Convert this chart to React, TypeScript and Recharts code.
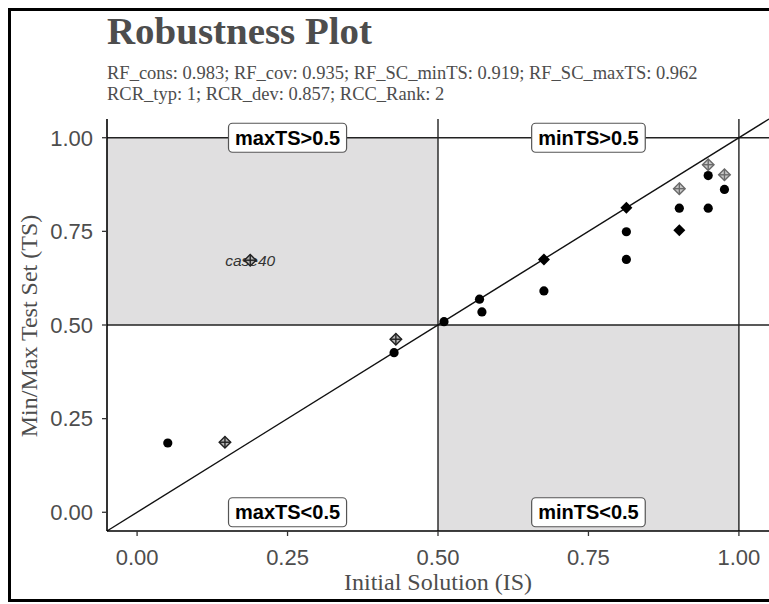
import React from "react";
import { ScatterChart, Scatter, XAxis, YAxis, ReferenceArea, ReferenceLine } from "recharts";

const xTicks = [0, 0.25, 0.5, 0.75, 1];
const yTicks = [0, 0.25, 0.5, 0.75, 1];

// solid dots
const circlePoints = [
  { x: 0.051, y: 0.185 },
  { x: 0.427, y: 0.426 },
  { x: 0.51, y: 0.509 },
  { x: 0.569, y: 0.569 },
  { x: 0.573, y: 0.535 },
  { x: 0.676, y: 0.591 },
  { x: 0.813, y: 0.749 },
  { x: 0.813, y: 0.675 },
  { x: 0.901, y: 0.812 },
  { x: 0.949, y: 0.899 },
  { x: 0.949, y: 0.812 },
  { x: 0.976, y: 0.862 },
];

// solid diamonds
const diamondPoints = [
  { x: 0.676, y: 0.675 },
  { x: 0.813, y: 0.813 },
  { x: 0.901, y: 0.753 },
];

// diamond-plus, dark
const crossedPoints = [
  { x: 0.146, y: 0.187 },
  { x: 0.188, y: 0.673, label: "case40" },
  { x: 0.43, y: 0.462 },
];

// diamond-plus, grey
const crossedGreyPoints = [
  { x: 0.901, y: 0.864 },
  { x: 0.949, y: 0.928 },
  { x: 0.976, y: 0.901 },
];

const quadrantLabels = [
  { x: 0.25, y: 1, text: "maxTS>0.5" },
  { x: 0.75, y: 1, text: "minTS>0.5" },
  { x: 0.25, y: 0, text: "maxTS<0.5" },
  { x: 0.75, y: 0, text: "minTS<0.5" },
];

const title = "Robustness Plot";
const subtitleLines = [
  "RF_cons: 0.983; RF_cov: 0.935; RF_SC_minTS: 0.919; RF_SC_maxTS: 0.962",
  "RCR_typ: 1; RCR_dev: 0.857; RCC_Rank: 2",
];
const xTitle = "Initial Solution (IS)";
const yTitle = "Min/Max Test Set (TS)";

const serif = "'Liberation Serif', serif";
const sans = "'Liberation Sans', Arial, sans-serif";
const textGrey = "#4d4d4d";
const shade = "#e0dfe0";

const fmt = (v: number) => v.toFixed(2);

let ctx: CanvasRenderingContext2D | null = null;
const measure = (t: string) => {
  if (!ctx) ctx = document.createElement("canvas").getContext("2d");
  if (!ctx) return t.length * 11.5;
  ctx.font = `bold 20px ${sans}`;
  return ctx.measureText(t).width;
};

const Dot = ({ cx, cy }: any) => <circle cx={cx} cy={cy} r={4.6} fill="#000" />;

const Diamond = ({ cx, cy }: any) => (
  <polygon points={`${cx},${cy - 6} ${cx + 6},${cy} ${cx},${cy + 6} ${cx - 6},${cy}`} fill="#000" />
);

const crossDiamond = (stroke: string, fill: string) => ({ cx, cy, payload }: any) => (
  <g>
    {payload?.label && (
      <text
        x={cx}
        y={cy}
        dy="0.36em"
        textAnchor="middle"
        fontStyle="italic"
        fontSize={15.5}
        fontFamily={sans}
        fill="#333"
      >
        {payload.label}
      </text>
    )}
    <polygon
      points={`${cx},${cy - 5.8} ${cx + 5.8},${cy} ${cx},${cy + 5.8} ${cx - 5.8},${cy}`}
      fill={fill}
      stroke={stroke}
      strokeWidth={1.4}
    />
    <line x1={cx - 5.8} y1={cy} x2={cx + 5.8} y2={cy} stroke={stroke} strokeWidth={1.4} />
    <line x1={cx} y1={cy - 5.8} x2={cx} y2={cy + 5.8} stroke={stroke} strokeWidth={1.4} />
  </g>
);

const QuadLabel = ({ cx, cy, payload }: any) => {
  const w = measure(payload.text) + 13;
  return (
    <g>
      <rect x={cx - w / 2} y={cy - 14.5} width={w} height={29} rx={4} fill="#fff" stroke="#555" strokeWidth={1.2} />
      <text x={cx} y={cy + 7.2} textAnchor="middle" fontFamily={sans} fontWeight="bold" fontSize={20} fill="#000">
        {payload.text}
      </text>
    </g>
  );
};

export default function App() {
  return (
    <div style={{ position: "fixed", left: 0, top: 0, width: 769, height: 604, overflow: "hidden", background: "#fff" }}>
      <div style={{ position: "absolute", left: 0, top: 0 }}>
        <ScatterChart width={769} height={604} margin={{ top: 119, right: 0, bottom: 33, left: 47 }}>
          <XAxis
            type="number"
            dataKey="x"
            domain={[-0.05, 1.05]}
            ticks={xTicks}
            tickFormatter={fmt}
            allowDataOverflow
            height={40}
            axisLine={{ stroke: "#000", strokeWidth: 1.6 }}
            tickLine={{ stroke: "#333", strokeWidth: 1.3 }}
            tickSize={5}
            tickMargin={13}
            tick={{ fill: textGrey, fontSize: 22, fontFamily: sans }}
          />
          <YAxis
            type="number"
            dataKey="y"
            domain={[-0.05, 1.05]}
            ticks={yTicks}
            tickFormatter={fmt}
            allowDataOverflow
            width={60}
            axisLine={{ stroke: "#000", strokeWidth: 1.6 }}
            tickLine={{ stroke: "#333", strokeWidth: 1.3 }}
            tickSize={5}
            tickMargin={9}
            tick={{ fill: textGrey, fontSize: 22, fontFamily: sans }}
          />
          <ReferenceArea x1={-0.05} x2={0.5} y1={0.5} y2={1} fill={shade} fillOpacity={1} stroke="none" />
          <ReferenceArea x1={0.5} x2={1} y1={-0.05} y2={0.5} fill={shade} fillOpacity={1} stroke="none" />
          <ReferenceLine x={0.5} stroke="#222" strokeWidth={1.4} />
          <ReferenceLine x={1} stroke="#222" strokeWidth={1.4} />
          <ReferenceLine y={0.5} stroke="#222" strokeWidth={1.4} />
          <ReferenceLine y={1} stroke="#222" strokeWidth={1.4} />
          <ReferenceLine
            segment={[
              { x: -0.05, y: -0.05 },
              { x: 1.05, y: 1.05 },
            ]}
            stroke="#111"
            strokeWidth={1.4}
          />
          <Scatter data={circlePoints} shape={Dot} isAnimationActive={false} />
          <Scatter data={diamondPoints} shape={Diamond} isAnimationActive={false} />
          <Scatter data={crossedPoints} shape={crossDiamond("#222", "#b5b5b5")} isAnimationActive={false} />
          <Scatter data={crossedGreyPoints} shape={crossDiamond("#6a6a6a", "#c8c8c8")} isAnimationActive={false} />
          <Scatter data={quadrantLabels} shape={QuadLabel} isAnimationActive={false} />
        </ScatterChart>
      </div>
      <svg width={769} height={604} style={{ position: "absolute", left: 0, top: 0, pointerEvents: "none" }}>
        <text x={107} y={44} fontFamily={serif} fontWeight="bold" fontSize={38} fill={textGrey} textLength={265} lengthAdjust="spacingAndGlyphs">
          {title}
        </text>
        <text x={107} y={79} fontFamily={serif} fontSize={18.5} fill={textGrey}>
          {subtitleLines[0]}
        </text>
        <text x={107} y={100} fontFamily={serif} fontSize={18.5} fill={textGrey}>
          {subtitleLines[1]}
        </text>
        <text x={438} y={590} textAnchor="middle" fontFamily={serif} fontSize={24} fill={textGrey}>
          {xTitle}
        </text>
        <text
          transform="translate(37,326) rotate(-90)"
          textAnchor="middle"
          fontFamily={serif}
          fontSize={24}
          fill={textGrey}
        >
          {yTitle}
        </text>
      </svg>
      <div
        style={{
          position: "absolute",
          left: 8,
          top: 8,
          width: 900,
          height: 594,
          boxSizing: "border-box",
          border: "3px solid #000",
          pointerEvents: "none",
        }}
      />
    </div>
  );
}
